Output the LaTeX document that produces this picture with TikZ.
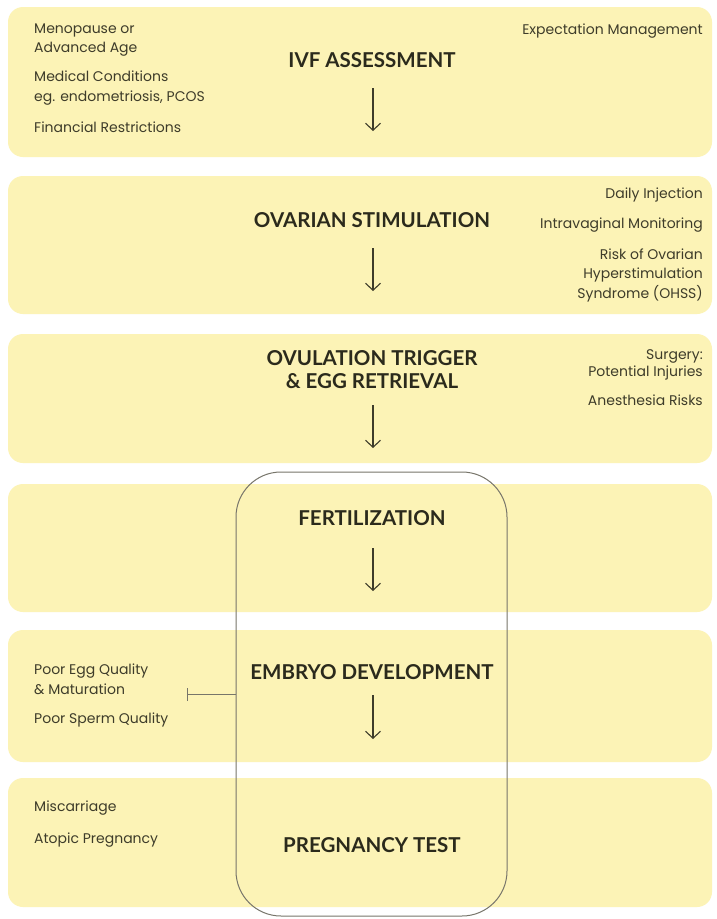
\documentclass[tikz,border=0pt]{standalone}
\usepackage{fontspec}
\setmainfont{Poppins}
\newfontfamily\titlefont{Lato}
\usetikzlibrary{arrows.meta}
\definecolor{bandfill}{HTML}{FCF3B6}
\definecolor{ink}{HTML}{2B2A1C}
\definecolor{softink}{HTML}{3E3C2A}
\definecolor{framecol}{HTML}{77756A}
\tikzset{
  band/.style={fill=bandfill, rounded corners=15pt},
  title/.style={font=\titlefont\fontsize{20.5}{23}\selectfont\bfseries, text=ink, align=center, inner sep=0pt},
  lnote/.style={font=\fontsize{14}{19.5}\selectfont, text=softink, anchor=west, align=left, inner sep=0pt},
  rnote/.style={font=\fontsize{14}{19.5}\selectfont, text=softink, anchor=east, align=right, inner sep=0pt},
  flow/.style={draw=softink, line width=1.1pt, -{Straight Barb[length=7pt,width=15pt,line width=1.1pt]}},
  inhibit/.style={draw=framecol, line width=1pt, -{Bar[width=13pt,line width=1pt]}},
}
\begin{document}
\begin{tikzpicture}[x=1pt,y=-1pt]
\useasboundingbox (0,0) rectangle (716,919);
\fill[white] (0,0) rectangle (716,919);
% bands
\fill[band] (8,7) rectangle (712,157);
\fill[band] (8,176) rectangle (712,314);
\fill[band] (8,334) rectangle (712,463);
\fill[band] (8,484) rectangle (712,612);
\fill[band] (8,630) rectangle (712,762);
\fill[band] (8,778) rectangle (712,907);
% core frame
\node[draw=framecol, line width=1pt, rounded corners=45pt, minimum width=271pt, minimum height=444pt, inner sep=0pt] (core) at (371.5,694) {};
% band 1
\node[title] (t1) at (372,60) {IVF ASSESSMENT};
\node[lnote] (l1a) at (34,40) {Menopause or\\Advanced Age};
\node[lnote] (l1b) at (34,88) {Medical Conditions\\eg. endometriosis, PCOS};
\node[lnote] (l1c) at (34,127) {Financial Restrictions};
\node[rnote] (r1a) at (703,31) {Expectation Management};
\coordinate (a1s) at (373,88); \coordinate (a1e) at (373,131);
\draw[flow] (a1s) -- (a1e);
% band 2
\node[title] (t2) at (372,220) {OVARIAN STIMULATION};
\node[rnote] (r2a) at (703,195) {Daily Injection};
\node[rnote] (r2b) at (703,225) {Intravaginal Monitoring};
\node[rnote] (r2c) at (703,275) {Risk of Ovarian\\Hyperstimulation\\Syndrome (OHSS)};
\coordinate (a2s) at (373,248); \coordinate (a2e) at (373,291);
\draw[flow] (a2s) -- (a2e);
% band 3
\node[title] (t3) at (372,370) {OVULATION TRIGGER\\\& EGG RETRIEVAL};
\node[rnote, font=\fontsize{14}{17}\selectfont] (r3a) at (703,365) {Surgery:\\Potential Injuries};
\node[rnote] (r3b) at (703,400) {Anesthesia Risks};
\coordinate (a3s) at (373,405); \coordinate (a3e) at (373,448);
\draw[flow] (a3s) -- (a3e);
% band 4
\node[title] (t4) at (372,518) {FERTILIZATION};
\coordinate (a4s) at (373,548); \coordinate (a4e) at (373,591);
\draw[flow] (a4s) -- (a4e);
% band 5
\node[title] (t5) at (372,672) {EMBRYO DEVELOPMENT};
\node[lnote] (l5a) at (34,679) {Poor Egg Quality\\\& Maturation};
\node[lnote] (l5b) at (34,720) {Poor Sperm Quality};
\coordinate (a5s) at (373,695); \coordinate (a5e) at (373,739);
\draw[flow] (a5s) -- (a5e);
\coordinate (inh) at (187,694);
\draw[inhibit] (core.west) -- (inh);
% band 6
\node[title] (t6) at (372,845) {PREGNANCY TEST};
\node[lnote] (l6a) at (34,808) {Miscarriage};
\node[lnote] (l6b) at (34,840) {Atopic Pregnancy};
\end{tikzpicture}
\end{document}
